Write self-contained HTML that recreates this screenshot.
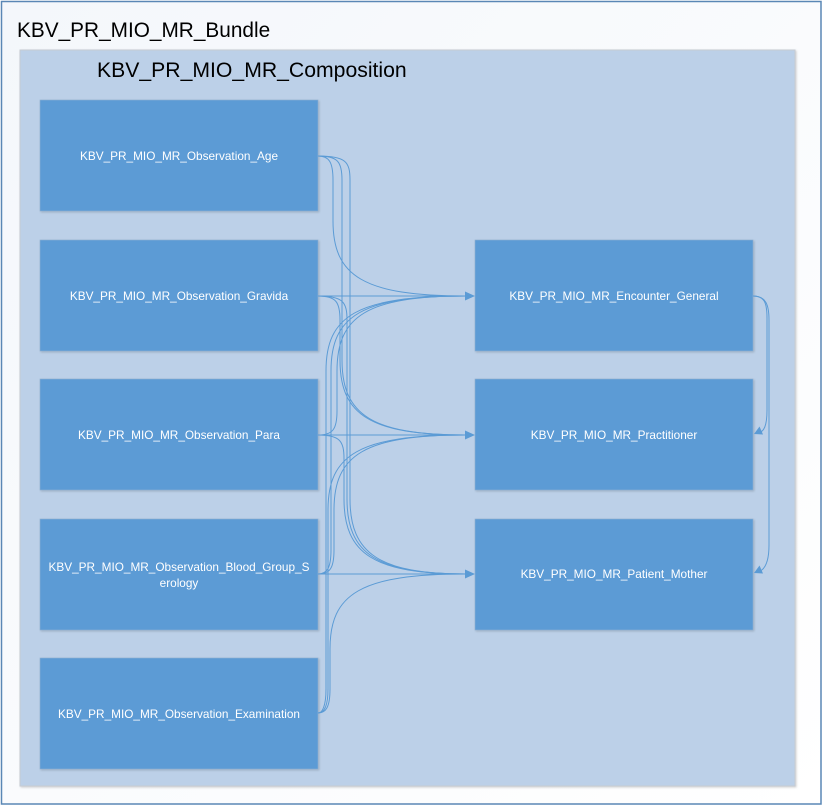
<!DOCTYPE html>
<html>
<head>
<meta charset="utf-8">
<style>
  html,body{margin:0;padding:0;background:#fff;}
  body{width:823px;height:806px;overflow:hidden;}
  svg{display:block;}
  text{font-family:"Liberation Sans", sans-serif;}
</style>
</head>
<body>
<svg width="823" height="806" viewBox="0 0 823 806" xmlns="http://www.w3.org/2000/svg">
  <defs>
    <linearGradient id="bg" x1="0" y1="0" x2="1" y2="1">
      <stop offset="0" stop-color="#f4f7fb"/>
      <stop offset="1" stop-color="#ffffff"/>
    </linearGradient>
    <filter id="sh" x="-5%" y="-5%" width="110%" height="110%">
      <feDropShadow dx="1" dy="1" stdDeviation="1" flood-color="#000" flood-opacity="0.18"/>
    </filter>
  </defs>

  <rect x="1.5" y="1.5" width="819.5" height="802.5" fill="url(#bg)" stroke="#5a87b5" stroke-width="1.5"/>
  <text x="17" y="37" font-size="20.8" fill="#000">KBV_PR_MIO_MR_Bundle</text>

  <rect x="20" y="50" width="775" height="736" fill="#bcd0e8" stroke="#c6cbd2" stroke-width="1" filter="url(#sh)"/>
  <text x="97" y="77" font-size="21.2" fill="#000">KBV_PR_MIO_MR_Composition</text>

  <g fill="#5b9bd5" stroke="#8fb0d0" stroke-width="0.6" filter="url(#sh)">
    <rect x="40" y="100" width="278" height="111"/>
    <rect x="40" y="240" width="278" height="111"/>
    <rect x="40" y="379" width="278" height="111"/>
    <rect x="40" y="519" width="278" height="111"/>
    <rect x="40" y="658" width="278" height="111"/>
    <rect x="475" y="240" width="278" height="111"/>
    <rect x="475" y="379" width="278" height="111"/>
    <rect x="475" y="519" width="278" height="111"/>
  </g>

  <g font-size="11.8" fill="#ffffff" text-anchor="middle">
    <text x="179" y="160">KBV_PR_MIO_MR_Observation_Age</text>
    <text x="179" y="300">KBV_PR_MIO_MR_Observation_Gravida</text>
    <text x="179" y="439">KBV_PR_MIO_MR_Observation_Para</text>
    <text x="179" y="571">KBV_PR_MIO_MR_Observation_Blood_Group_S</text>
    <text x="179" y="587">erology</text>
    <text x="179" y="718">KBV_PR_MIO_MR_Observation_Examination</text>
    <text x="614" y="300">KBV_PR_MIO_MR_Encounter_General</text>
    <text x="614" y="439">KBV_PR_MIO_MR_Practitioner</text>
    <text x="614" y="578">KBV_PR_MIO_MR_Patient_Mother</text>
  </g>

  <g fill="none" stroke="#5b9bd5" stroke-width="1">
    <path d="M318 156 C329 156,333 162,333 180 L333 221 C333 276,363 296,466 296"/>
    <path d="M318 156 C338 156,342 162,342 180 L342 360 C342 415,372 435,466 435"/>
    <path d="M318 156 C346 156,350 162,350 180 L350 499 C350 554,380 574,466 574"/>
    <path d="M318 296 L466 296"/>
    <path d="M318 296 C336 296,340 302,340 320 L340 360 C340 415,370 435,466 435"/>
    <path d="M318 296 C343 296,347 302,347 320 L347 499 C347 554,377 574,466 574"/>
    <path d="M318 435 C333 435,337 429,337 411 L337 371 C337 316,367 296,466 296"/>
    <path d="M318 435 L466 435"/>
    <path d="M318 435 C340 435,344 441,344 459 L344 499 C344 554,374 574,466 574"/>
    <path d="M318 574 C327 574,331 568,331 550 L331 371 C331 316,361 296,466 296"/>
    <path d="M318 574 C330 574,334 568,334 550 L334 510 C334 455,364 435,466 435"/>
    <path d="M318 574 L466 574"/>
    <path d="M318 713 C322 713,326 707,326 689 L326 371 C326 316,356 296,466 296"/>
    <path d="M318 713 C324 713,328 707,328 689 L328 510 C328 455,358 435,466 435"/>
    <path d="M318 713 C326 713,330 707,330 689 L330 649 C330 594,360 574,466 574"/>
    <path d="M753 296 C764 296,767 302,767 318 L767 410 C767 426,764 432,758 433"/>
    <path d="M753 296 C766 296,769 305,769 320 L769 545 C769 562,765 570,758 572"/>
  </g>

  <g fill="#5b9bd5">
    <polygon points="475,296 465,291.5 465,300.5"/>
    <polygon points="475,435 465,430.5 465,439.5"/>
    <polygon points="475,574 465,569.5 465,578.5"/>
    <polygon points="754,434 763,434.5 759.5,426.5"/>
    <polygon points="754,573 763,573.5 759.5,565.5"/>
  </g>
</svg>
</body>
</html>
